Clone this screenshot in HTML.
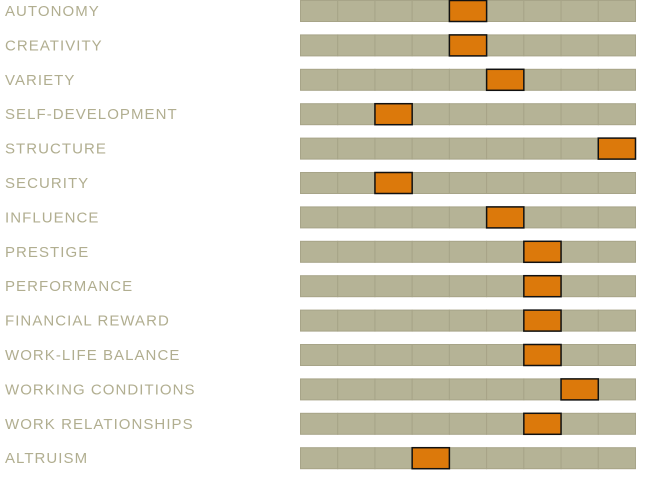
<!DOCTYPE html>
<html><head><meta charset="utf-8"><style>
body{margin:0;background:#fff;width:647px;height:481px;overflow:hidden}
svg{display:block}
text{font-family:"Liberation Sans",sans-serif;font-size:15px;fill:#b1ae90;letter-spacing:1.05px}
</style></head><body>
<svg id="c" width="647" height="481"></svg>
<script>
const categories=["AUTONOMY","CREATIVITY","VARIETY","SELF-DEVELOPMENT","STRUCTURE","SECURITY","INFLUENCE","PRESTIGE","PERFORMANCE","FINANCIAL REWARD","WORK-LIFE BALANCE","WORKING CONDITIONS","WORK RELATIONSHIPS","ALTRUISM"];
const scores=[4,4,5,2,8,2,5,6,6,6,6,7,6,3];
const levels=9;
const NS="http://www.w3.org/2000/svg";
const svg=document.getElementById('c');
const x0=300,x1=635,rowH=34.4,barH=21;
const cw=(x1-x0)/levels;
function xPos(i){return x0+i*cw;}
function yPos(r){return r*rowH;}
function mk(t,a){const e=document.createElementNS(NS,t);for(const k in a)e.setAttribute(k,a[k]);svg.appendChild(e);return e;}
categories.forEach((c,r)=>{
  const y=yPos(r);
  const lab=mk('text',{x:5,y:y+16});
  lab.textContent=c;
  
  
  for(let i=0;i<levels;i++){
    const cell=mk('rect',{x:xPos(i)+0.5,y:y+0.5,width:cw,height:barH,fill:'#b5b396',stroke:'#a7a488','stroke-width':1});
    
    
  }
  const m=mk('rect',{x:xPos(scores[r])+0.5,y:y+0.5,width:cw,height:barH,fill:'#dc790b',stroke:'#111','stroke-width':1.5});
  
  
});
</script>
</body></html>
